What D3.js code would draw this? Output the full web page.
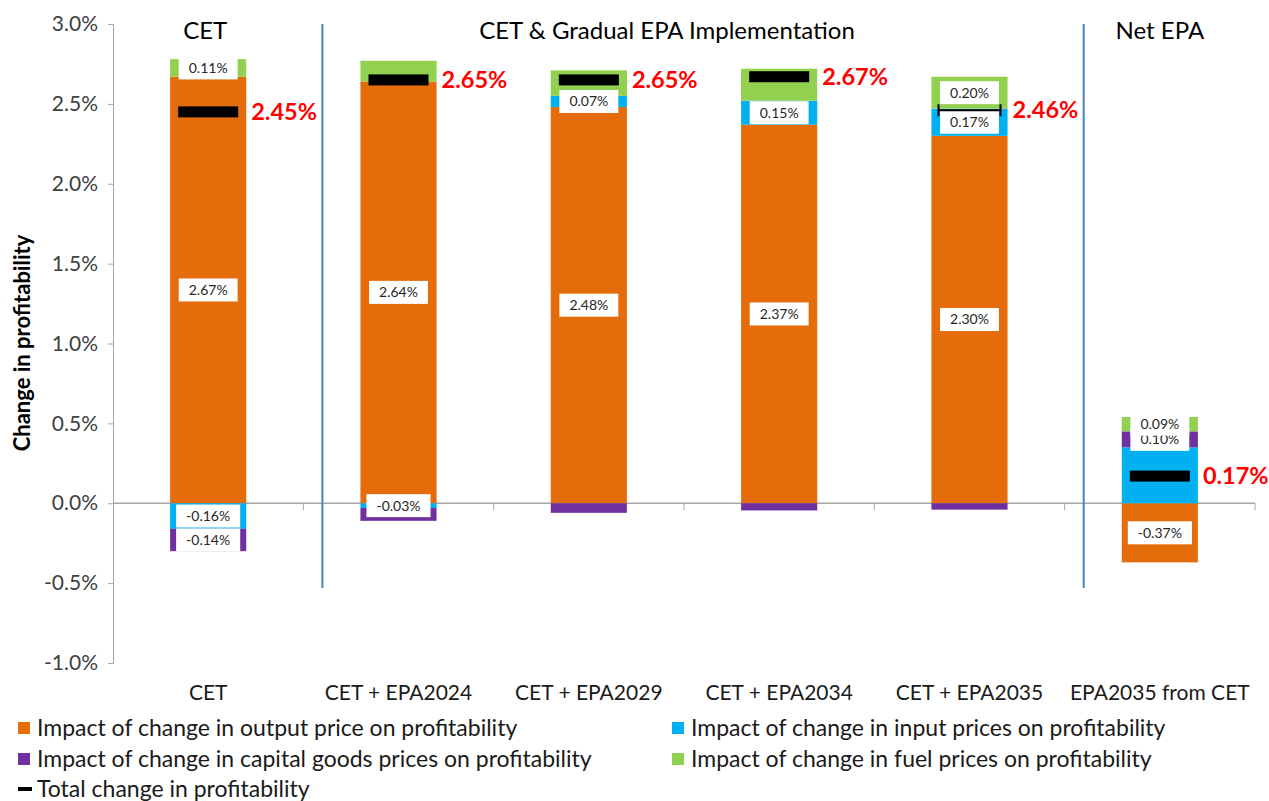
<!DOCTYPE html>
<html><head><meta charset="utf-8">
<script src="https://cdn.jsdelivr.net/npm/d3@7"></script>
<style>body{margin:0;background:#fff;} svg{display:block;font-family:Lato,"Open Sans",sans-serif;}</style>
</head><body><svg id="c" width="1269" height="801"></svg>
<script>
const categories = ["CET","CET + EPA2024","CET + EPA2029","CET + EPA2034","CET + EPA2035","EPA2035 from CET"];
const outputPrice = [2.67, 2.64, 2.48, 2.37, 2.30, -0.37];
const inputPrices = [-0.16, -0.03, 0.07, 0.15, 0.17, 0.35];
const capitalPrices = [-0.14, -0.08, -0.06, -0.045, -0.04, 0.10];
const fuelPrices = [0.11, 0.13, 0.16, 0.20, 0.20, 0.09];
const totalChange = [2.45, 2.65, 2.65, 2.67, 2.46, 0.17];
const yTicks = [-1.0,-0.5,0,0.5,1.0,1.5,2.0,2.5,3.0];
// which segment labels are shown (output, input, capital, fuel)
const shownLabels = [
  ["output","input","capital","fuel"],
  ["output","input"],
  ["output","input"],
  ["output","input"],
  ["output","input","fuel"],
  ["output","capital","fuel"]
];
const groupHeaders = [
  {text:"CET", from:0, to:0},
  {text:"CET & Gradual EPA Implementation", from:1, to:4},
  {text:"Net EPA", from:5, to:5}
];
const seriesNames = {
  output:"Impact of change in output price on profitability",
  input:"Impact of change in input prices on profitability",
  capital:"Impact of change in capital goods prices on profitability",
  fuel:"Impact of change in fuel prices on profitability",
  total:"Total change in profitability"
};
const colors = {output:"#E46C0A", input:"#00B0F0", capital:"#7030A0", fuel:"#92D050"};
const seriesOrder = ["output","input","capital","fuel"];
const seriesData = {output:outputPrice, input:inputPrices, capital:capitalPrices, fuel:fuelPrices};

const svg = d3.select("#c");
const L = 113, R = 1255, T = 24, B = 663;
const x = d3.scaleBand().domain(categories).range([L,R]).paddingInner(0.6).paddingOuter(0.3);
const xb = d3.scaleBand().domain(categories).range([L,R]);
const y = d3.scaleLinear().domain([-1,3]).range([B,T]);
const bw = x.bandwidth();

// axes
const yAxis = svg.append("g").attr("transform",`translate(${L},0)`)
  .call(d3.axisLeft(y).tickValues(yTicks).tickSize(5).tickFormat(d=>d.toFixed(1)+"%"));
yAxis.select(".domain").attr("stroke","#a6a6a6");
yAxis.selectAll(".tick line").attr("stroke","#a6a6a6");
yAxis.selectAll("text").attr("font-size",21).attr("fill","#404040").attr("x",-15).attr("font-family","Lato");

// x axis line at zero
svg.append("line").attr("x1",L).attr("x2",R).attr("y1",y(0)).attr("y2",y(0)).attr("stroke","#a6a6a6").attr("stroke-width",1.3);
const boundaries = categories.map(c=>xb(c)+xb.bandwidth());
svg.selectAll(".xt").data(boundaries).enter().append("line")
  .attr("x1",d=>d).attr("x2",d=>d).attr("y1",y(0)).attr("y2",y(0)+7).attr("stroke","#a6a6a6");

// category labels
svg.selectAll(".cl").data(categories).enter().append("text")
  .attr("x",d=>xb(d)+xb.bandwidth()/2).attr("y",700).attr("text-anchor","middle")
  .attr("font-size",21).attr("fill","#1a1a1a").text(d=>d);

// stacked segments
const segs = [];
categories.forEach((c,i)=>{
  let pos=0, neg=0;
  seriesOrder.forEach(s=>{
    const v = seriesData[s][i];
    let y0,y1;
    if(v>=0){y0=pos; y1=pos+v; pos=y1;} else {y0=neg; y1=neg+v; neg=y1;}
    svg.append("rect").attr("x",x(c)).attr("width",bw)
      .attr("y",y(Math.max(y0,y1))).attr("height",Math.abs(y(y0)-y(y1)))
      .attr("fill",colors[s]);
    segs.push({c,i,s,v,y0,y1,show:shownLabels[i].includes(s)});
  });
});

// labels
segs.filter(d=>d.show).forEach(d=>{
  const cx = x(d.c)+bw/2, cy = y((d.y0+d.y1)/2);
  const g = svg.append("g");
  const r = g.append("rect").attr("fill","#fff");
  const t = g.append("text").attr("x",cx).attr("y",cy).attr("dy","0.35em").attr("text-anchor","middle")
    .attr("font-size",14).attr("fill","#262626").text(d.v.toFixed(2)+"%");
  const w = t.node().getComputedTextLength()+20;
  r.attr("x",cx-w/2).attr("y",cy-11.5).attr("width",w).attr("height",23);
});

// totals
categories.forEach((c,i)=>{
  const cx = x(c)+bw/2, ty = y(totalChange[i]);
  if(i===4){
    svg.append("line").attr("x1",cx-31).attr("x2",cx+31).attr("y1",ty).attr("y2",ty).attr("stroke","#000").attr("stroke-width",2);
    [cx-31,cx+31].forEach(px=>svg.append("line").attr("x1",px).attr("x2",px).attr("y1",ty-6).attr("y2",ty+6).attr("stroke","#000").attr("stroke-width",2));
  } else {
    svg.append("rect").attr("x",cx-30).attr("y",ty-5.5).attr("width",60).attr("height",11).attr("fill","#000");
  }
  svg.append("text").attr("x",x(c)+bw+5).attr("y",ty).attr("dy","0.35em")
    .attr("font-size",23.5).attr("font-weight","bold").attr("fill","#FF0000").text(totalChange[i].toFixed(2)+"%");
});

// separators (offset right of the category boundary)
[0,4].forEach(i=>{
  const sx = xb(categories[i])+xb.bandwidth() + xb.bandwidth()*0.1;
  svg.append("line").attr("x1",sx).attr("x2",sx).attr("y1",T).attr("y2",588).attr("stroke","#4F81BD").attr("stroke-width",2);
});

// headers
const headerShift = [-3, -17, 0];
groupHeaders.forEach((g,k)=>{
  const a = x(categories[g.from]), b = x(categories[g.to])+bw;
  svg.append("text").attr("x",(a+b)/2 + headerShift[k]).attr("y",39).attr("text-anchor","middle").attr("font-size",24).attr("fill","#000").text(g.text);
});

// y title
svg.append("text").attr("transform","translate(30,343) rotate(-90)").attr("text-anchor","middle")
  .attr("font-size",22).attr("font-weight","bold").attr("fill","#000").text("Change in profitability");

// legend
const leg = [
  {k:"output",x:18,y:728},{k:"input",x:672,y:728},
  {k:"capital",x:18,y:759},{k:"fuel",x:672,y:759},
  {k:"total",x:18,y:789}
];
leg.forEach(l=>{
  if(l.k==="total") svg.append("rect").attr("x",l.x).attr("y",l.y-2).attr("width",14).attr("height",4).attr("fill","#000");
  else svg.append("rect").attr("x",l.x).attr("y",l.y-6).attr("width",12).attr("height",12).attr("fill",colors[l.k]);
  svg.append("text").attr("x",l.x+19).attr("y",l.y).attr("dy","0.35em").attr("font-size",23).attr("fill","#1a1a1a").text(seriesNames[l.k]);
});
</script></body></html>
